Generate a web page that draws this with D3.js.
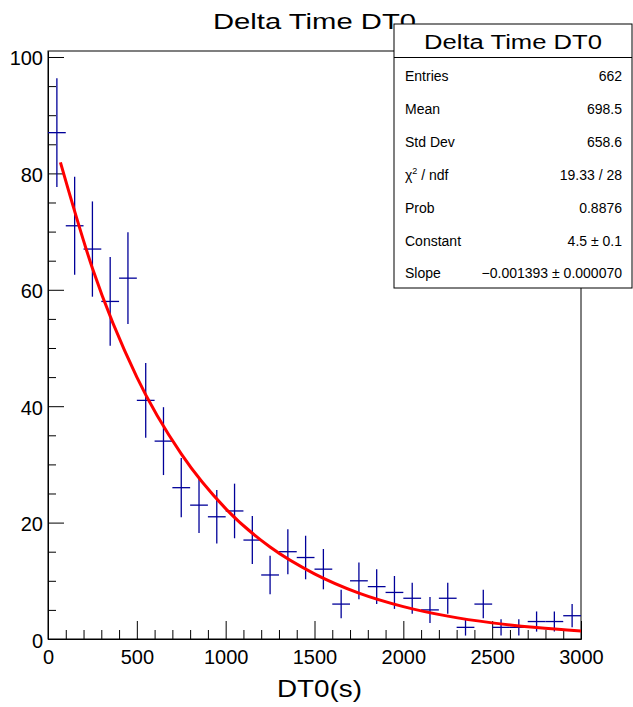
<!DOCTYPE html>
<html>
<head>
<meta charset="utf-8">
<script src="https://cdn.jsdelivr.net/npm/d3@7"></script>
<style>
  html, body { margin: 0; padding: 0; background: #fff; }
  svg { display: block; font-family: "Liberation Sans", Arial, Helvetica, sans-serif; }
</style>
</head>
<body>
<svg id="chart" width="633" height="707"></svg>
<script>
// ---- data ----
const binCenters = [50,150,250,350,450,550,650,750,850,950,1050,1150,1250,1350,1450,
                    1550,1650,1750,1850,1950,2050,2150,2250,2350,2450,2550,2650,2750,2850,2950];
const counts     = [87,71,67,58,62,41,34,26,23,21,22,17,11,15,14,
                    12,6,10,9,8,7,5,7,2,6,2,2,3,3,4];
const binWidth = 100;
// fit curve (expo)
const fitX = [70,250,500,750,1000,1250,1500,1750,2000,2250,2500,2750,3000];
const fitY = [81.9,63.7,45.0,31.8,22.4,15.8,11.2,7.89,5.57,3.93,2.77,1.96,1.38];
const xTicks = [0,500,1000,1500,2000,2500,3000];
const yTicks = [0,20,40,60,80,100];
const statLabels = ["Entries","Mean","Std Dev","CHI","Prob","Constant","Slope"];
const statValues = ["662","698.5","658.6","19.33 / 28","0.8876","4.5 \u00b1 0.1","\u22120.001393 \u00b1 0.000070"];
const title = "Delta Time DT0";
const xTitle = "DT0(s)";

const svg = d3.select("#chart");
const L = 48, R = 581, T = 51, B = 639;
const x = d3.scaleLinear().domain([0,3000]).range([L,R]);
const y = d3.scaleLinear().domain([0,101.03]).range([B,T]);

// title (drawn under the stats box)
svg.append("text").attr("x",213).attr("y",29)
  .attr("font-size",22).attr("textLength",203).attr("lengthAdjust","spacingAndGlyphs")
  .text(title);

// frame
svg.append("rect").attr("x",L).attr("y",T).attr("width",R-L).attr("height",B-T)
  .attr("fill","none").attr("stroke","#000").attr("stroke-width",1);

// axes
const xMinor = d3.range(0,3001,100).filter(v => v % 500 !== 0);
const yMinor = d3.range(0,101,5).filter(v => v % 20 !== 0);
const gxMinor = svg.append("g").attr("transform",`translate(0,${B})`)
  .call(d3.axisBottom(x).tickValues(xMinor).tickSize(-9).tickSizeOuter(0).tickFormat(""));
const gx = svg.append("g").attr("transform",`translate(0,${B})`)
  .call(d3.axisBottom(x).tickValues(xTicks).tickSize(-18).tickSizeOuter(0).tickPadding(11).tickFormat(d3.format("d")));
const gyMinor = svg.append("g").attr("transform",`translate(${L},0)`)
  .call(d3.axisLeft(y).tickValues(yMinor).tickSize(-8).tickSizeOuter(0).tickFormat(""));
const gy = svg.append("g").attr("transform",`translate(${L},0)`)
  .call(d3.axisLeft(y).tickValues(yTicks).tickSize(-16).tickSizeOuter(0).tickPadding(5).tickFormat(d3.format("d")));
[gx,gy,gxMinor,gyMinor].forEach(g => {
  g.selectAll("text").attr("font-size",20).attr("fill","#000")
   .attr("font-family",'"Liberation Sans", Arial, Helvetica, sans-serif');
  g.selectAll("line").attr("stroke","#000");
  g.select(".domain").attr("stroke","#000");
});
gy.selectAll("text").attr("dy","0.4em");

// x title
svg.append("text").attr("x",277).attr("y",697).attr("font-size",24)
  .attr("textLength",85).attr("lengthAdjust","spacingAndGlyphs").text(xTitle);

// data crosses
const pts = binCenters.map((c,i) => ({c, v: counts[i], e: Math.sqrt(counts[i])}));
const gd = svg.append("g").attr("stroke","#000099").attr("stroke-width",1.3);
gd.selectAll("line.v").data(pts).join("line").attr("class","v")
  .attr("x1",d=>x(d.c)).attr("x2",d=>x(d.c))
  .attr("y1",d=>y(d.v - d.e)).attr("y2",d=>y(d.v + d.e));
gd.selectAll("line.h").data(pts).join("line").attr("class","h")
  .attr("x1",d=>x(d.c - binWidth/2)).attr("x2",d=>x(d.c + binWidth/2))
  .attr("y1",d=>y(d.v)).attr("y2",d=>y(d.v));

// fit curve
const line = d3.line().x(d=>x(d[0])).y(d=>y(d[1])).curve(d3.curveMonotoneX);
svg.append("path").datum(fitX.map((v,i)=>[v,fitY[i]]))
  .attr("d",line).attr("fill","none").attr("stroke","#ff0000").attr("stroke-width",3);

// stats box
const bx = 394, by = 24, bw = 238, bh = 264;
svg.append("rect").attr("x",bx).attr("y",by).attr("width",bw).attr("height",bh)
  .attr("fill","#fff").attr("stroke","#000").attr("stroke-width",1);
svg.append("line").attr("x1",bx).attr("x2",bx+bw).attr("y1",57.5).attr("y2",57.5)
  .attr("stroke","#000").attr("stroke-width",1);
svg.append("text").attr("x",513).attr("y",49).attr("text-anchor","middle")
  .attr("font-size",20).attr("textLength",178).attr("lengthAdjust","spacingAndGlyphs")
  .text(title);
statLabels.forEach((lab,i) => {
  const yy = 81 + i*32.9;
  const t = svg.append("text").attr("x",405).attr("y",yy).attr("font-size",14);
  if (lab === "CHI") {
    t.append("tspan").text("\u03c7");
    t.append("tspan").attr("font-size",9).attr("dy",-6).text("2");
    t.append("tspan").attr("dy",6).text(" / ndf");
  } else {
    t.text(lab);
  }
  svg.append("text").attr("x",622).attr("y",yy).attr("font-size",14)
    .attr("text-anchor","end").text(statValues[i]);
});
</script>
</body>
</html>
